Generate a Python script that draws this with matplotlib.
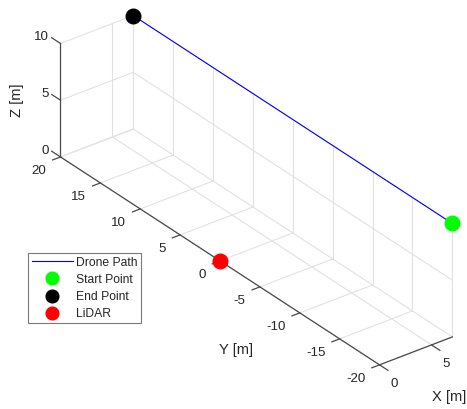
import matplotlib
matplotlib.use("Agg")
import matplotlib.pyplot as plt
from mpl_toolkits.mplot3d import proj3d

plt.rcParams["font.family"] = ["Liberation Sans", "DejaVu Sans"]

# Drone pass at constant height, LiDAR at the origin
path_x = [7, 7]
path_y = [-20, 20]
path_z = [10, 10]
start_pt = (7, -20, 10)
end_pt = (7, 20, 10)
lidar_pt = (0, 0, 0)

x_lim = (0, 7)
y_lim = (-20, 20)
z_lim = (0, 10)
x_ticks = [0, 5]
y_ticks = [-20, -15, -10, -5, 0, 5, 10, 15, 20]
z_ticks = [0, 5, 10]

W, H, DPI = 467, 409, 100
fig = plt.figure(figsize=(W / DPI, H / DPI), dpi=DPI)

# square 3D axes, sized so the projected box sits where wanted
side = 520
cx, cy = 256.4, 218.8
frac = 0.095 / 0.185
ax = fig.add_axes([(cx - frac * side) / W, (cy - frac * side) / H, side / W, side / H],
                  projection="3d", proj_type="ortho", computed_zorder=False)
ax.set_axis_off()
ax.view_init(elev=30, azim=-127.5)
ax.set_xlim(*x_lim)
ax.set_ylim(*y_lim)
ax.set_zlim(*z_lim)
ax.set_box_aspect((x_lim[1] - x_lim[0], y_lim[1] - y_lim[0], z_lim[1] - z_lim[0]), zoom=1.023)

x0, x1 = x_lim
y0, y1 = y_lim
z0, z1 = z_lim

# grid on the three back planes
gk = dict(color="#e2e2e2", lw=0.8, zorder=1)
for yt in y_ticks:
    ax.plot([x0, x1], [yt, yt], [z0, z0], **gk)
    ax.plot([x1, x1], [yt, yt], [z0, z1], **gk)
for xt in x_ticks:
    ax.plot([xt, xt], [y0, y1], [z0, z0], **gk)
    ax.plot([xt, xt], [y1, y1], [z0, z1], **gk)
for zt in z_ticks:
    ax.plot([x1, x1], [y0, y1], [zt, zt], **gk)
    ax.plot([x0, x1], [y1, y1], [zt, zt], **gk)

# axis lines and tick marks
ak = dict(color="#4a4a4a", lw=0.9, zorder=2)
ax.plot([x0, x0], [y0, y1], [z0, z0], **ak)
ax.plot([x0, x1], [y0, y0], [z0, z0], **ak)
ax.plot([x0, x0], [y1, y1], [z0, z1], **ak)
for yt in y_ticks:
    ax.plot([x0, x0 - 0.75], [yt, yt], [z0, z0], **ak)
for xt in x_ticks:
    ax.plot([xt, xt], [y0, y0 - 1.05], [z0, z0], **ak)
for zt in z_ticks:
    ax.plot([x0, x0], [y1, y1 + 1.1], [zt, zt], **ak)

# tick labels: anchor in 3D, projected onto the flat axes plane
M = ax.get_proj()


def label3d(x, y, z, s, **kw):
    px, py, _ = proj3d.proj_transform(x, y, z, M)
    ax.text2D(px, py, s, transform=ax.transData, **kw)


tk = dict(fontsize=9.6, color="#262626", zorder=2)
for yt in y_ticks:
    label3d(x0 - 1.35, yt, z0 - 0.76, f"{yt}", ha="right", va="center", **tk)
for xt in x_ticks:
    label3d(xt, y0 - 1.375, z0 - 1.04, f"{xt}", ha="left", va="center", **tk)
for zt in z_ticks:
    label3d(x0, y1 + 1.5, zt - 0.15, f"{zt}", ha="right", va="center", **tk)

lk = dict(fontsize=10.6, color="#262626")
fig.text(17 / W, 1 - 100 / H, "Z [m]", rotation=90, ha="center", va="center", **lk)
fig.text(235.5 / W, 1 - 350 / H, "Y [m]", ha="center", va="center", **lk)
fig.text(449.5 / W, 1 - 397 / H, "X [m]", ha="center", va="center", **lk)

# data
line, = ax.plot(path_x, path_y, path_z, color="#0000ff", lw=0.8, zorder=3, label="Drone Path")
mk = dict(marker="o", ms=10.5, ls="none", zorder=4)
s, = ax.plot([start_pt[0]], [start_pt[1]], [start_pt[2]], color="#00ff00", label="Start Point", **mk)
e, = ax.plot([end_pt[0]], [end_pt[1]], [end_pt[2]], color="black", label="End Point", **mk)
l, = ax.plot([lidar_pt[0]], [lidar_pt[1]], [lidar_pt[2]], color="#ff0000", label="LiDAR", **mk)

leg = ax.legend(handles=[line, s, e, l], loc="upper left",
                bbox_to_anchor=(28 / W, 1 - 253 / H), bbox_transform=fig.transFigure,
                borderaxespad=0, fancybox=False, framealpha=1, edgecolor="#7a7a7a",
                fontsize=8.7, handlelength=3.4, handletextpad=0.3, labelspacing=0.42,
                borderpad=0.3, markerscale=0.87, numpoints=1)
leg.get_frame().set_linewidth(0.8)
for t in leg.get_texts():
    t.set_color("#262626")

fig.savefig("out.png", dpi=DPI)
